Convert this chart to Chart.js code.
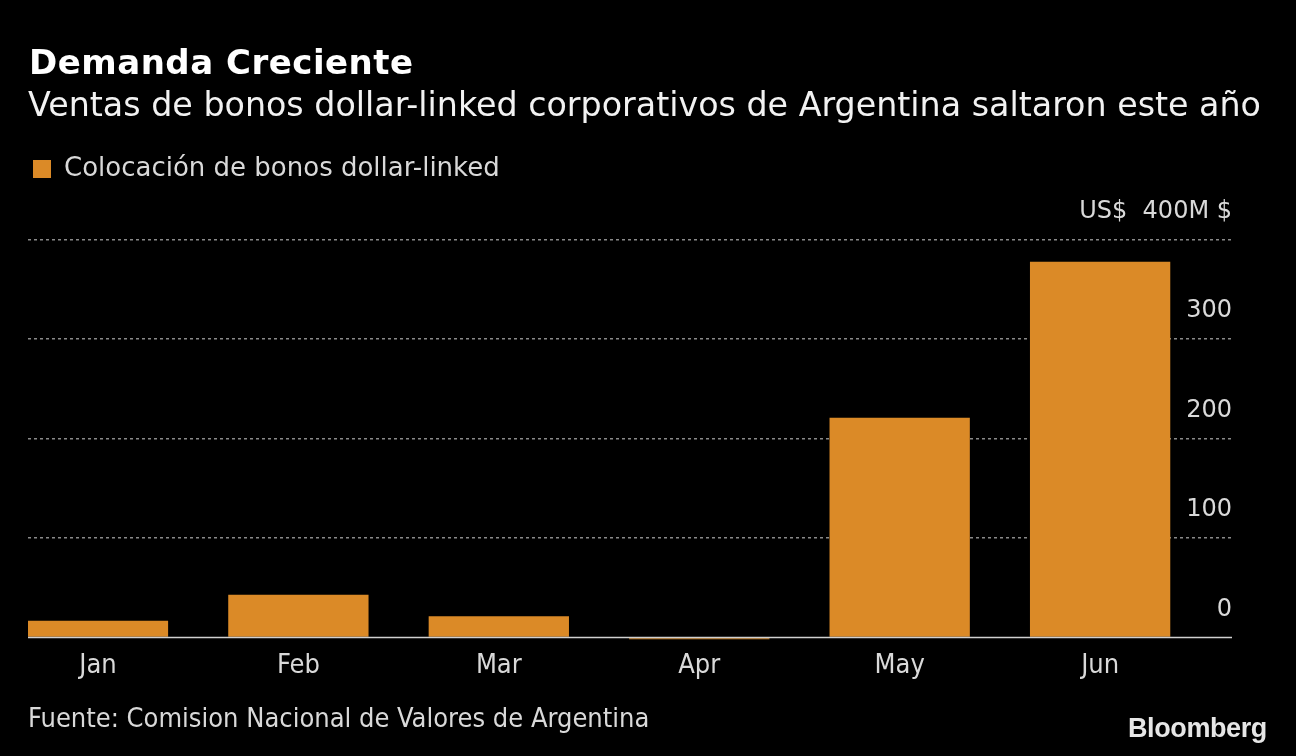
<!DOCTYPE html>
<html>
<head>
<meta charset="utf-8">
<script src="https://cdn.jsdelivr.net/npm/chart.js@4.4.1/dist/chart.umd.min.js"></script>
<style>
  html, body { margin: 0; padding: 0; background: #000; }
  .wrap { position: relative; width: 1296px; height: 756px; background: #000; overflow: hidden; }
  .wrap canvas { position: absolute; left: 0; top: 0; }
  .title { position: absolute; left: 29px; top: 42px; color: #fff; font: bold 34px 'DejaVu Sans'; letter-spacing: 0.5px; }
  .subtitle { position: absolute; left: 28px; top: 85px; color: #f2f2f2; font: 33.3px 'DejaVu Sans'; }
  .source { position: absolute; left: 28px; top: 702px; color: #d9d9d9; font: 27px 'DejaVu Sans Condensed', 'DejaVu Sans'; }
  .logo { position: absolute; left: 1128px; top: 713px; color: #e6e6e6; font: bold 27px 'Liberation Sans', Arial; letter-spacing: -0.4px; }
</style>
</head>
<body>
<div class="wrap">
  <canvas id="chart" width="1296" height="756"></canvas>
  <div class="title">Demanda Creciente</div>
  <div class="subtitle">Ventas de bonos dollar-linked corporativos de Argentina saltaron este año</div>
  <div class="source">Fuente: Comision Nacional de Valores de Argentina</div>
  <div class="logo">Bloomberg</div>
</div>
<script>
const months = ['Jan', 'Feb', 'Mar', 'Apr', 'May', 'Jun'];
const placements = [17, 43, 21.5, -2, 221, 378];   // US$ millones
const seriesName = 'Colocación de bonos dollar-linked';
const yTicks = [0, 100, 200, 300, 400];

const barColor = '#db8a27';
const txt = '#d9d9d9';

// linea del cero solida, encima de las barras
const zeroLine = {
  id: 'zeroLine',
  afterDatasetsDraw(chart) {
    const y = chart.scales.y.getPixelForValue(0);
    const ctx = chart.ctx;
    ctx.save();
    ctx.strokeStyle = '#d0d0d0';
    ctx.lineWidth = 1.5;
    ctx.beginPath();
    ctx.moveTo(chart.chartArea.left, y);
    ctx.lineTo(chart.chartArea.right, y);
    ctx.stroke();
    ctx.restore();
  }
};

new Chart(document.getElementById('chart'), {
  type: 'bar',
  data: {
    datasets: [{
      label: seriesName,
      data: placements.map((v, i) => ({ x: i, y: v })),
      backgroundColor: barColor,
      borderWidth: 0,
      categoryPercentage: 1,
      barPercentage: 0.7
    }]
  },
  options: {
    responsive: false,
    animation: false,
    layout: { padding: { left: 28, right: 64, top: 151, bottom: 72 } },
    plugins: {
      legend: {
        display: true,
        position: 'top',
        align: 'start',
        labels: {
          color: txt,
          font: { family: 'DejaVu Sans', size: 26 },
          boxWidth: 18,
          boxHeight: 18,
          padding: 5
        }
      },
      tooltip: { enabled: false }
    },
    scales: {
      x: {
        type: 'linear',
        offset: false,
        min: -0.349,
        max: 5.658,
        grid: { display: false },
        border: { display: false },
        ticks: {
          stepSize: 1,
          includeBounds: false,
          color: txt,
          padding: 2,
          font: { family: "'DejaVu Sans Condensed', 'DejaVu Sans'", size: 27 },
          callback: v => months[v] ?? ''
        }
      },
      y: {
        position: 'right',
        min: -2,
        max: 448,
        afterBuildTicks: axis => { axis.ticks = yTicks.map(v => ({ value: v })); },
        grid: {
          drawTicks: false,
          lineWidth: 1.5,
          color: c => (c.tick && c.tick.value === 0) ? 'rgba(0,0,0,0)' : '#8a8a8a'
        },
        border: { display: false, dash: [3, 3] },
        ticks: {
          mirror: true,
          padding: 0,
          labelOffset: -28,
          color: txt,
          font: { family: 'DejaVu Sans', size: 24 },
          callback: v => v === 400 ? 'US$  400M $' : String(v)
        }
      }
    }
  },
  plugins: [zeroLine]
});
</script>
</body>
</html>
